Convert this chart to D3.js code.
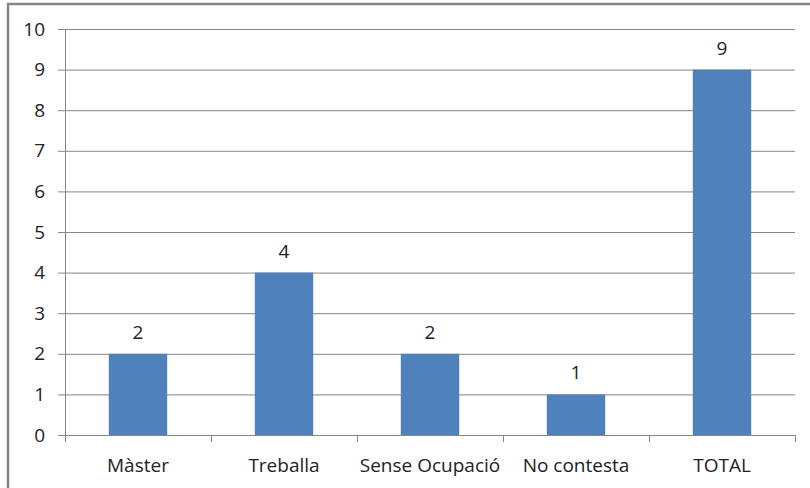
<!DOCTYPE html>
<html>
<head>
<meta charset="utf-8">
<script src="https://cdn.jsdelivr.net/npm/d3@7"></script>
<style>
  body { margin: 0; background: #fff; }
  svg { display: block; }
</style>
</head>
<body>
<div id="chart"></div>
<script>
const categories = ["Màster", "Treballa", "Sense Ocupació", "No contesta", "TOTAL"];
const values = [2, 4, 2, 1, 9];
const yTicks = [0, 1, 2, 3, 4, 5, 6, 7, 8, 9, 10];

const width = 810, height = 488;
const plotLeft = 65, plotRight = 795, plotTop = 29, plotBottom = 435;
const font = "'Open Sans', sans-serif";

const svg = d3.select("#chart").append("svg")
    .attr("width", width)
    .attr("height", height);

// outer frame (runs off right/bottom edge)
svg.append("rect")
    .attr("x", 8).attr("y", 4)
    .attr("width", 820).attr("height", 500)
    .attr("fill", "#fff")
    .attr("stroke", "#868686")
    .attr("stroke-width", 2.5);

const x = d3.scaleBand()
    .domain(categories)
    .range([plotLeft, plotRight])
    .paddingInner(0.6)
    .paddingOuter(0.3);

const y = d3.scaleLinear()
    .domain([0, 10])
    .range([plotBottom, plotTop]);

// gridlines + y ticks
svg.append("g")
    .selectAll("line")
    .data(yTicks)
    .enter().append("line")
    .attr("x1", plotLeft - 7).attr("x2", plotRight)
    .attr("y1", d => y(d) + 0.5).attr("y2", d => y(d) + 0.5)
    .attr("stroke", "#868686")
    .attr("stroke-width", 1);

// y axis line
svg.append("line")
    .attr("x1", plotLeft + 0.5).attr("x2", plotLeft + 0.5)
    .attr("y1", plotTop).attr("y2", plotBottom + 0.5)
    .attr("stroke", "#868686");

// y labels
svg.append("g")
    .selectAll("text")
    .data(yTicks)
    .enter().append("text")
    .attr("x", plotLeft - 20)
    .attr("y", d => y(d))
    .attr("dy", "0.35em")
    .attr("text-anchor", "end")
    .attr("font-family", font)
    .attr("font-size", 19)
    .attr("fill", "#222")
    .text(d => d);

// category boundary ticks
const step = x.step();
const bounds = d3.range(categories.length + 1).map(i => plotLeft + i * step);
svg.append("g")
    .selectAll("line")
    .data(bounds)
    .enter().append("line")
    .attr("x1", d => Math.round(d) + 0.5).attr("x2", d => Math.round(d) + 0.5)
    .attr("y1", plotBottom).attr("y2", plotBottom + 7)
    .attr("stroke", "#868686");

// bars
svg.append("g")
    .selectAll("rect")
    .data(values)
    .enter().append("rect")
    .attr("x", (d, i) => x(categories[i]))
    .attr("y", d => y(d))
    .attr("width", x.bandwidth())
    .attr("height", d => plotBottom - y(d))
    .attr("fill", "#4F81BD");

// value labels
svg.append("g")
    .selectAll("text")
    .data(values)
    .enter().append("text")
    .attr("x", (d, i) => x(categories[i]) + x.bandwidth() / 2)
    .attr("y", d => y(d) - 15)
    .attr("text-anchor", "middle")
    .attr("font-family", font)
    .attr("font-size", 19)
    .attr("fill", "#222")
    .text(d => d);

// x labels
svg.append("g")
    .selectAll("text")
    .data(categories)
    .enter().append("text")
    .attr("x", d => x(d) + x.bandwidth() / 2)
    .attr("y", 472)
    .attr("text-anchor", "middle")
    .attr("font-family", font)
    .attr("font-size", 19)
    .attr("fill", "#222")
    .text(d => d);
</script>
</body>
</html>
